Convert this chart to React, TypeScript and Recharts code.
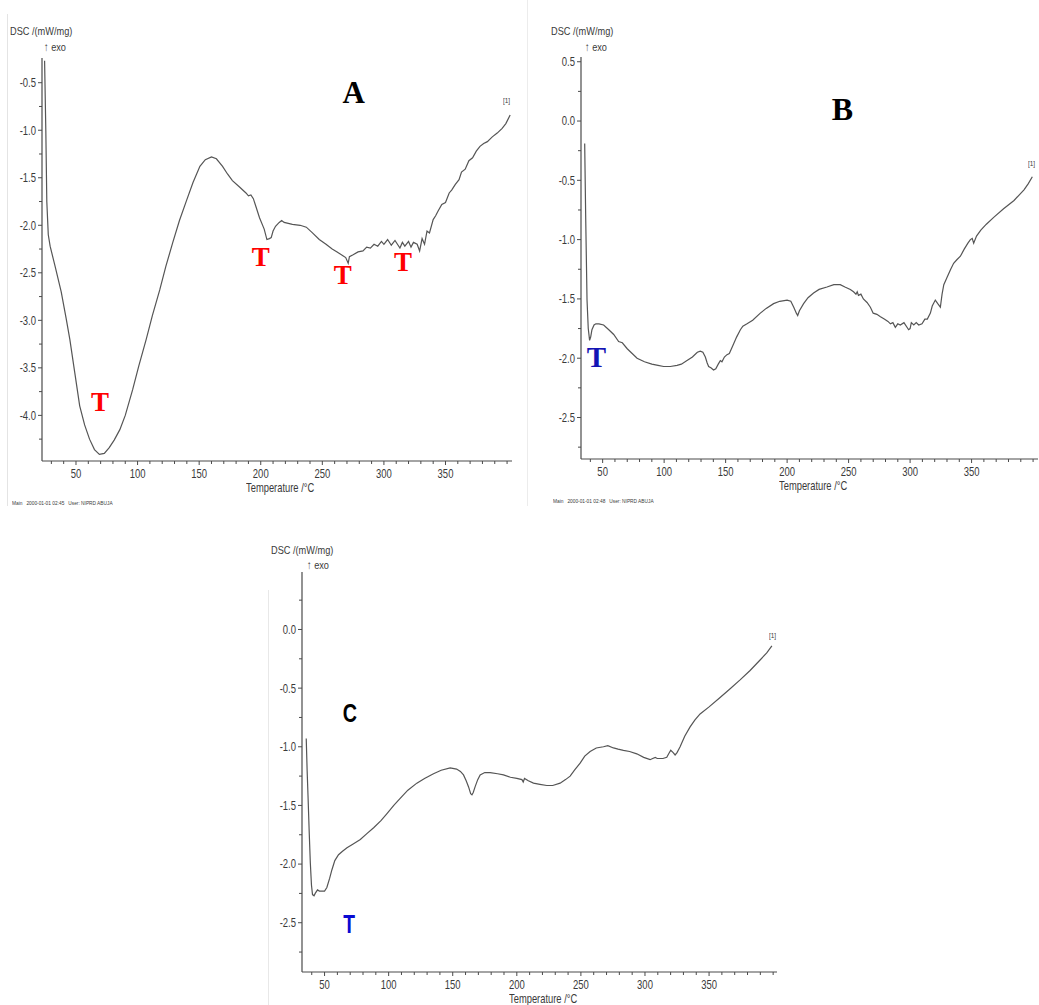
import React from 'react';
import { LineChart, Line, XAxis, YAxis, ReferenceDot } from 'recharts';

// DSC traces, [temperature °C, mW/mg]
const curveA: [number, number][] = [
  [24.5, -0.27], [25.5, -1.0], [26.3, -1.75], [27.5, -2.1], [29, -2.22], [33, -2.43], [38, -2.7], [42, -2.98],
  [45, -3.2], [49, -3.55], [53, -3.9], [57, -4.1], [61, -4.25], [65, -4.36], [69, -4.41], [73, -4.4],
  [77, -4.34], [81, -4.26], [85.6, -4.15], [90, -4.0], [96, -3.73], [101, -3.48], [107, -3.2], [112, -2.95],
  [118, -2.68], [123, -2.43], [128.6, -2.18], [134, -1.95], [140, -1.73], [145, -1.55], [150.6, -1.38],
  [155, -1.31], [160, -1.28], [164, -1.3], [169, -1.38], [173, -1.46], [177, -1.53], [183, -1.6], [188, -1.66],
  [190, -1.69], [192, -1.68], [194, -1.72], [196, -1.8], [199, -1.92], [202.8, -2.04], [205, -2.15],
  [207, -2.14], [208.5, -2.13], [210, -2.06], [212, -2.01], [215, -1.97], [217, -1.95], [219, -1.97],
  [225.7, -1.99], [232, -2.0], [237, -2.02], [242, -2.08], [247.5, -2.15], [253, -2.2], [258, -2.25],
  [262, -2.28], [266.7, -2.32], [269, -2.34], [271, -2.4], [272, -2.33], [275, -2.31], [279, -2.28],
  [283, -2.27], [286, -2.23], [289, -2.24], [292, -2.2], [295, -2.22], [298, -2.17], [300, -2.2], [303, -2.15],
  [306, -2.21], [309, -2.16], [311, -2.2], [313, -2.24], [315, -2.18], [317, -2.22], [320, -2.17],
  [322, -2.23], [324, -2.18], [327, -2.2], [329, -2.27], [331, -2.14], [333, -2.2], [335, -2.06], [337, -2.08],
  [340, -1.94], [342, -1.9], [344, -1.85], [347, -1.78], [350, -1.76], [353, -1.66], [355, -1.63], [358, -1.57],
  [361, -1.52], [363, -1.44], [366, -1.41], [369, -1.32], [372, -1.29], [375, -1.22], [378, -1.17],
  [381, -1.14], [384, -1.12], [388, -1.07], [392, -1.03], [396, -0.98], [399, -0.93], [402.5, -0.84],
];

const curveB: [number, number][] = [
  [35.4, -0.19], [36.2, -0.8], [37.3, -1.51], [38.3, -1.75], [39.4, -1.85], [40.3, -1.82], [41.3, -1.76],
  [43, -1.72], [44.5, -1.71], [47, -1.71], [50.8, -1.72], [55, -1.76], [59, -1.8], [63, -1.86], [66, -1.87],
  [70, -1.92], [74, -1.96], [78, -2.0], [84, -2.03], [90, -2.05], [95, -2.06], [99.6, -2.07], [105, -2.07],
  [110.5, -2.06], [114, -2.05], [118.6, -2.02], [123, -1.99], [127, -1.95], [129.4, -1.94], [131.5, -1.95],
  [133.5, -1.99], [135, -2.04], [136.2, -2.07], [138, -2.08], [140.2, -2.1], [142, -2.09], [144, -2.05],
  [145.7, -2.02], [147, -2.03], [149, -1.99], [151.1, -1.97], [153, -1.96], [156, -1.89], [159, -1.82],
  [162, -1.76], [164, -1.73], [167.4, -1.71], [172, -1.68], [178.2, -1.62], [183, -1.58], [189, -1.54],
  [194, -1.52], [200, -1.51], [203, -1.52], [205.4, -1.57], [207.5, -1.62], [208.6, -1.64], [210, -1.6],
  [213.4, -1.54], [217, -1.49], [221.5, -1.45], [226, -1.42], [232.4, -1.4], [238, -1.38], [243.2, -1.38],
  [247, -1.4], [251.4, -1.42], [254, -1.44], [256, -1.46], [257, -1.44], [258, -1.47], [260, -1.46],
  [262, -1.5], [265, -1.53], [267.7, -1.57], [270, -1.62], [273, -1.63], [275.9, -1.65], [279, -1.67],
  [282, -1.69], [284, -1.71], [286, -1.7], [288, -1.74], [290, -1.71], [292, -1.72], [295, -1.7],
  [298.8, -1.76], [300, -1.75], [301, -1.7], [303, -1.72], [305, -1.7], [307, -1.72], [309.7, -1.71],
  [312, -1.67], [314, -1.67], [316.5, -1.62], [318, -1.56], [320.5, -1.51], [322.5, -1.54], [324.6, -1.57],
  [326, -1.46], [327.4, -1.38], [330, -1.32], [333, -1.25], [335.4, -1.2], [338, -1.17], [340.9, -1.14],
  [344, -1.08], [347, -1.03], [349, -1.0], [350.5, -0.99], [351.7, -1.03], [354, -0.97], [357.5, -0.92],
  [362, -0.87], [368.2, -0.81], [376, -0.74], [384.5, -0.67], [389, -0.62], [392.6, -0.58], [396, -0.53],
  [399.4, -0.47],
];

const curveC: [number, number][] = [
  [35.7, -0.93], [36.4, -1.2], [37.1, -1.42], [38, -1.72], [38.9, -1.99], [39.8, -2.18], [40.6, -2.26],
  [41.8, -2.27], [42.7, -2.25], [44.5, -2.22], [46, -2.23], [47.9, -2.23], [50, -2.23], [51.8, -2.2],
  [54, -2.12], [55.7, -2.05], [58, -1.97], [60.9, -1.92], [64, -1.89], [67.5, -1.86], [72, -1.83],
  [77.9, -1.79], [83, -1.74], [88.3, -1.69], [94, -1.63], [98.7, -1.57], [104, -1.5], [109, -1.44],
  [115, -1.37], [122, -1.31], [128, -1.27], [135, -1.23], [141, -1.2], [148, -1.18], [153, -1.19],
  [156, -1.21], [158.4, -1.24], [160.5, -1.29], [162.3, -1.34], [164, -1.4], [165, -1.41], [166, -1.39],
  [167.5, -1.34], [169.5, -1.28], [171.4, -1.24], [175, -1.22], [179.2, -1.22], [185, -1.23], [189.6, -1.24],
  [195, -1.26], [200, -1.27], [204, -1.28], [205, -1.3], [206, -1.27], [209, -1.29], [213, -1.31],
  [218, -1.32], [223.4, -1.33], [228, -1.33], [233.8, -1.31], [238, -1.28], [241.6, -1.25], [245, -1.2],
  [249.4, -1.14], [253, -1.08], [257.2, -1.04], [262, -1.01], [267.6, -1.0], [271, -0.99], [275.4, -1.01],
  [279, -1.02], [283.2, -1.03], [288, -1.04], [293.6, -1.06], [299, -1.09], [304, -1.11], [306, -1.1],
  [308, -1.09], [309.5, -1.1], [311.8, -1.1], [314, -1.1], [317, -1.09], [318.5, -1.06], [320.1, -1.03],
  [322, -1.05], [323.5, -1.07], [325, -1.05], [327.4, -1.0], [331, -0.91], [335.2, -0.83], [339, -0.77],
  [343, -0.72], [350, -0.66], [358.6, -0.58], [366, -0.51], [374.2, -0.43], [382, -0.35], [389.8, -0.26],
  [395, -0.2], [399, -0.14],
];

// axis ticks
const xMajorTicks = [50, 100, 150, 200, 250, 300, 350];
const xAllTicks = [30, 40, 50, 60, 70, 80, 90, 100, 110, 120, 130, 140, 150, 160, 170, 180, 190, 200, 210, 220,
  230, 240, 250, 260, 270, 280, 290, 300, 310, 320, 330, 340, 350, 360, 370, 380, 390, 400];
const yTicksA = [-0.5, -0.75, -1.0, -1.25, -1.5, -1.75, -2.0, -2.25, -2.5, -2.75, -3.0, -3.25, -3.5, -3.75, -4.0, -4.25];
const yTicksB = [0.5, 0.25, 0.0, -0.25, -0.5, -0.75, -1.0, -1.25, -1.5, -1.75, -2.0, -2.25, -2.5, -2.75];
const yTicksC = [0.25, 0.0, -0.25, -0.5, -0.75, -1.0, -1.25, -1.5, -1.75, -2.0, -2.25, -2.5, -2.75];

// markers placed in data coordinates
const marksA = [
  { x: 69.5, y: -3.85, text: 'T' },
  { x: 200, y: -2.33, text: 'T' },
  { x: 266.5, y: -2.52, text: 'T' },
  { x: 315.4, y: -2.38, text: 'T' },
];
const marksB = [{ x: 44.9, y: -1.99, text: 'T' }];
const marksC = [{ x: 69.2, y: -2.51, text: 'T' }];

const FONT = "'Liberation Sans', Arial, sans-serif";
const INK = '#4a4a4a';
const SQUEEZE = 0.76;

const XTick = (props: any) => {
  const { x, y, payload } = props;
  const major = xMajorTicks.includes(payload.value);
  return (
    <g>
      <line x1={x} x2={x} y1={y} y2={y + (major ? 4 : 3)} stroke={INK} strokeWidth={1} />
      {major && (
        <text
          transform={`translate(${x},${y + 17}) scale(${SQUEEZE},1)`}
          textAnchor="middle"
          fontFamily={FONT}
          fontSize={12.5}
          fill="#3a3a3a"
        >
          {payload.value}
        </text>
      )}
    </g>
  );
};

const YTick = (props: any) => {
  const { x, y, payload } = props;
  const v = payload.value as number;
  const major = Math.abs(v * 2 - Math.round(v * 2)) < 1e-6;
  return (
    <g>
      <line x1={x - (major ? 4 : 3)} x2={x} y1={y} y2={y} stroke={INK} strokeWidth={1} />
      {major && (
        <text
          transform={`translate(${x - 6},${y}) scale(${SQUEEZE},1)`}
          dy="0.35em"
          textAnchor="end"
          fontFamily={FONT}
          fontSize={12.5}
          fill="#3a3a3a"
        >
          {v.toFixed(1)}
        </text>
      )}
    </g>
  );
};

type Mark = { x: number; y: number; text: string };
type MarkStyle = { style: React.SVGProps<SVGTextElement>; sx?: number };

const markShape = (text: string, ms: MarkStyle) => (p: any) => (
  <text
    transform={`translate(${p.cx},${p.cy}) scale(${ms.sx ?? 1},1)`}
    dy="0.35em"
    textAnchor="middle"
    {...ms.style}
  >
    {text}
  </text>
);

function Panel(props: {
  data: [number, number][];
  plot: { left: number; top: number; right: number; bottom: number };
  xDomain: [number, number];
  yDomain: [number, number];
  yTicks: number[];
  marks: Mark[];
  markStyle: MarkStyle;
  letter: Mark;
  letterStyle: MarkStyle;
}) {
  const { plot } = props;
  const rows = props.data.map(([t, v]) => ({ t, v }));
  const width = plot.right - plot.left + 42;
  const height = plot.bottom - plot.top + 50;
  return (
    <div style={{ position: 'absolute', left: plot.left - 40, top: plot.top - 10 }}>
      <LineChart width={width} height={height} data={rows} margin={{ top: 10, right: 2, left: 0, bottom: 0 }}>
        <XAxis
          dataKey="t"
          type="number"
          domain={props.xDomain}
          allowDataOverflow
          ticks={xAllTicks.filter((t) => t >= props.xDomain[0] && t <= props.xDomain[1])}
          interval={0}
          tickLine={false}
          tickSize={0}
          tickMargin={0}
          tick={<XTick />}
          axisLine={{ stroke: INK, strokeWidth: 1.2 }}
          height={40}
        />
        <YAxis
          type="number"
          domain={props.yDomain}
          allowDataOverflow
          ticks={props.yTicks}
          interval={0}
          tickLine={false}
          tickSize={0}
          tickMargin={0}
          tick={<YTick />}
          axisLine={{ stroke: INK, strokeWidth: 1.2 }}
          width={40}
        />
        <Line
          type="linear"
          dataKey="v"
          stroke="#555"
          strokeWidth={1.2}
          dot={false}
          isAnimationActive={false}
        />
        {props.marks.map((m, i) => (
          <ReferenceDot key={i} x={m.x} y={m.y} r={0} shape={markShape(m.text, props.markStyle)} />
        ))}
        <ReferenceDot
          x={props.letter.x}
          y={props.letter.y}
          r={0}
          shape={markShape(props.letter.text, props.letterStyle)}
        />
      </LineChart>
    </div>
  );
}

const small: React.CSSProperties = {
  position: 'absolute',
  fontFamily: FONT,
  color: '#3a3a3a',
  whiteSpace: 'nowrap',
  lineHeight: 1,
};

const Txt = ({ x, y, size, children, sx = 0.8 }: {
  x: number; y: number; size: number; children: React.ReactNode; sx?: number;
}) => (
  <div
    style={{
      ...small,
      left: x,
      top: y - size / 2,
      fontSize: size,
      transformOrigin: 'left center',
      transform: `scaleX(${sx})`,
    }}
  >
    {children}
  </div>
);

const serifBold = { fontFamily: "'Liberation Serif', 'Times New Roman', serif", fontWeight: 700 };
const sansBold = { fontFamily: "'Liberation Sans', Arial, sans-serif", fontWeight: 700 };

export default function App() {
  return (
    <div style={{ position: 'absolute', left: 0, top: 0, width: 1039, height: 1005, overflow: 'hidden', background: '#fff' }}>
      {/* faint scan edges */}
      <div style={{ position: 'absolute', left: 7, top: 14, width: 1, height: 492, background: '#e4e4e4' }} />
      <div style={{ position: 'absolute', left: 527, top: 0, width: 1, height: 506, background: '#ececec' }} />
      <div style={{ position: 'absolute', left: 268, top: 590, width: 1, height: 415, background: '#e8e8e8' }} />

      <Panel
        data={curveA}
        plot={{ left: 42, top: 58, right: 512, bottom: 461 }}
        xDomain={[22.4, 404]}
        yDomain={[-4.48, -0.24]}
        yTicks={yTicksA}
        marks={marksA}
        markStyle={{ style: { ...serifBold, fontSize: 27, fill: '#ff0000' } }}
        letter={{ x: 275.4, y: -0.6, text: 'A' }}
        letterStyle={{ style: { ...serifBold, fontSize: 31, fill: '#000' } }}
      />
      <Txt x={10} y={32} size={11.5}>DSC /(mW/mg)</Txt>
      <Txt x={44} y={48} size={11.5}>↑ exo</Txt>
      <Txt x={246} y={487} size={13} sx={0.72}>Temperature /°C</Txt>
      <Txt x={503} y={101} size={8}>[1]</Txt>
      <Txt x={12} y={503} size={6}>Main&nbsp;&nbsp;&nbsp;2000-01-01 02:45&nbsp;&nbsp;&nbsp;User: NIPRD ABUJA</Txt>

      <Panel
        data={curveB}
        plot={{ left: 581, top: 57, right: 1038, bottom: 459 }}
        xDomain={[32.4, 404]}
        yDomain={[-2.85, 0.54]}
        yTicks={yTicksB}
        marks={marksB}
        markStyle={{ style: { ...serifBold, fontSize: 29, fill: '#1414b4' } }}
        letter={{ x: 244.9, y: 0.107, text: 'B' }}
        letterStyle={{ style: { ...serifBold, fontSize: 32, fill: '#000' } }}
      />
      <Txt x={551} y={32} size={11.5}>DSC /(mW/mg)</Txt>
      <Txt x={585} y={48} size={11.5}>↑ exo</Txt>
      <Txt x={779} y={485} size={13} sx={0.72}>Temperature /°C</Txt>
      <Txt x={1028} y={164} size={8}>[1]</Txt>
      <Txt x={553} y={501} size={6}>Main&nbsp;&nbsp;&nbsp;2000-01-01 02:48&nbsp;&nbsp;&nbsp;User: NIPRD ABUJA</Txt>

      <Panel
        data={curveC}
        plot={{ left: 302, top: 572, right: 777, bottom: 972 }}
        xDomain={[32.4, 403]}
        yDomain={[-2.92, 0.49]}
        yTicks={yTicksC}
        marks={marksC}
        markStyle={{ style: { ...sansBold, fontSize: 26, fill: '#0a0ad2' }, sx: 0.74 }}
        letter={{ x: 69.8, y: -0.71, text: 'C' }}
        letterStyle={{ style: { ...sansBold, fontSize: 26, fill: '#000' }, sx: 0.76 }}
      />
      <Txt x={271} y={551} size={11.5}>DSC /(mW/mg)</Txt>
      <Txt x={307} y={566} size={11.5}>↑ exo</Txt>
      <Txt x={509} y={998} size={13} sx={0.72}>Temperature /°C</Txt>
      <Txt x={769} y={636} size={8}>[1]</Txt>
    </div>
  );
}
